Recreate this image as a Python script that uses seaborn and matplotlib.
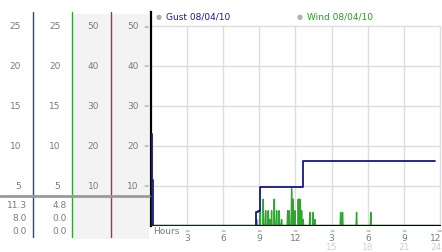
import matplotlib
matplotlib.use("Agg")
import matplotlib.pyplot as plt
import seaborn as sns
import pandas as pd
from matplotlib.patches import Rectangle

# ---------------- data ----------------
gust_hours = [0.0, 0.0, 0.12, 0.2, 8.72, 8.92, 9.05, 12.6, 23.6]
gust_speeds = [0.0, 23.0, 11.3, 0.0, 3.4, 3.6, 9.6, 16.1, 16.1]

wind_spike_hours = [8.79, 9.06, 9.34, 9.54, 9.75, 9.89, 10.03, 10.25, 10.45, 10.66,
                    10.86, 11.36, 11.49, 11.69, 11.82, 11.96, 12.24, 12.38, 12.52,
                    12.65, 13.2, 13.48, 13.62, 15.75, 15.91, 17.07, 18.25]
wind_spike_speeds = [1.5, 3.7, 6.6, 3.7, 3.7, 1.5, 3.7, 6.6, 3.7, 3.7,
                     1.5, 3.7, 3.7, 9.2, 6.6, 3.7, 6.6, 6.6, 3.7,
                     1.5, 3.3, 3.3, 1.5, 3.3, 3.3, 3.3, 3.3]

hour_ticks = [3, 6, 9, 12, 15, 18, 21, 24]
hour_labels = ["3", "6", "9", "12", "3", "6", "9", "12"]
hour_labels2 = ["", "", "", "", "15", "18", "21", "24"]

grid_levels = [10, 20, 30, 40, 50]
col1_labels = ["5", "10", "15", "20", "25"]
col2_labels = ["5", "10", "15", "20", "25"]
col3_labels = ["10", "20", "30", "40", "50"]
col4_labels = ["10", "20", "30", "40", "50"]
col1_summary = ["11.3", "8.0", "0.0"]
col2_summary = ["4.8", "0.0", "0.0"]

legend_names = ["Gust 08/04/10", "Wind 08/04/10"]

# ---------------- build tables ----------------
gust_df = pd.DataFrame({"hour": gust_hours, "speed": gust_speeds})
wh, ws = [0.0], [0.0]
for h, v in zip(wind_spike_hours, wind_spike_speeds):
    wh += [h - 0.04, h, h + 0.04]
    ws += [0.0, v, 0.0]
wh.append(24.0)
ws.append(0.0)
wind_df = pd.DataFrame({"hour": wh, "speed": ws})

# ---------------- figure ----------------
sns.set_style("white")
plt.rcParams["font.family"] = ["DejaVu Sans"]
W, H = 442, 253
fig = plt.figure(figsize=(W / 100, H / 100), dpi=100)

ax_left_px, ax_right_px = 150.5, 442
ax_top_px, ax_bot_px = 13, 226.5
ymax = 53.5
ax = fig.add_axes([ax_left_px / W, (H - ax_bot_px) / H,
                   (ax_right_px - ax_left_px) / W, (ax_bot_px - ax_top_px) / H])
xmax = 24 * (ax_right_px - ax_left_px) / (440.2 - ax_left_px)
ax.set_xlim(0, xmax)
ax.set_ylim(0, ymax)
scale = (ax_bot_px - ax_top_px) / ymax  # px per unit

GRID = "#dddddd"
for g in grid_levels:
    ax.plot([0, 24], [g, g], color=GRID, lw=1, zorder=1)
for t in hour_ticks:
    ax.plot([t, t], [0, 50], color=GRID, lw=1, zorder=1)

sns.lineplot(data=wind_df, x="hour", y="speed", ax=ax, color="#2fa52f", lw=1.0,
             estimator=None, sort=False, zorder=2)
ax.axhline(0, xmin=0, xmax=24 / xmax, color="black", lw=1.6, zorder=3)
sns.lineplot(data=gust_df, x="hour", y="speed", ax=ax, color="#16168a", lw=1.3,
             estimator=None, sort=False, drawstyle="steps-post", zorder=4)

for s in ["top", "right", "bottom"]:
    ax.spines[s].set_visible(False)
ax.spines["left"].set_color("black")
ax.spines["left"].set_linewidth(1.6)
ax.set_xticks([])
ax.set_yticks([])
ax.set_xlabel("")
ax.set_ylabel("")
ax.patch.set_alpha(0)

FS = 6.5
TXT = "#7a7a7a"
xt = ax.get_xaxis_transform()
def yfrac(px):
    return (ax_bot_px - px) / (ax_bot_px - ax_top_px)
last = hour_ticks[-1]
for t, l1, l2 in zip(hour_ticks, hour_labels, hour_labels2):
    ha = "right" if t == last else "center"
    tx = t + 0.12 if t == last else t
    ax.text(tx - (0.2 if t == last else 0), yfrac(231), "≈", transform=xt,
            ha="center", va="center", fontsize=4.5, color="#999999", clip_on=False)
    ax.text(tx, yfrac(238.5), l1, transform=xt, ha=ha, va="center",
            fontsize=FS, color=TXT, clip_on=False)
    if l2:
        ax.text(tx, yfrac(247.5), l2, transform=xt, ha=ha, va="center",
                fontsize=FS, color="#d0d0d0", clip_on=False)
ax.text(0.25, yfrac(232), "Hours", transform=xt, ha="left", va="center",
        fontsize=FS, color=TXT, clip_on=False)

# legend
lx = [(159, 166, "#1a1a9a"), (300, 307, "#2a9a2a")]
for (cx, tx, col), name in zip(lx, legend_names):
    fig.text(cx / W, 1 - 17.5 / H, "●", color="#b0b0b0", fontsize=5,
             ha="center", va="center")
    fig.text(tx / W, 1 - 17.5 / H, name, color=col, fontsize=FS,
             ha="left", va="center")

# ---------------- left panel ----------------
lax = fig.add_axes([0, 0, ax_left_px / W, 1])
lax.set_xlim(0, ax_left_px)
lax.set_ylim(-(H - ax_bot_px) / scale, ax_bot_px / scale)
lax.axis("off")
def py(px):
    return (ax_bot_px - px) / scale

for x0, x1 in [(73, 110.5), (111.5, 148.5)]:
    lax.add_patch(Rectangle((x0, py(240)), x1 - x0, py(15) - py(240),
                            color="#f3f3f3", lw=0, zorder=0))
for x, col in [(33.3, "#2343a3"), (72.3, "#3aa03a"), (111, "#b03232")]:
    lax.plot([x, x], [py(12.5), py(237.5)], color=col, lw=1, zorder=2)
lax.plot([0, 148.5], [py(197), py(197)], color="#9a9a9a", lw=2, zorder=3)

for labels, xr in [(col1_labels, 21), (col2_labels, 60.5),
                   (col3_labels, 99), (col4_labels, 138.5)]:
    for g, lab in zip(grid_levels, labels):
        lax.text(xr, g, lab, ha="right", va="center", fontsize=FS, color=TXT)
for g in grid_levels:
    lax.text(145.5, g, "≈", ha="center", va="center", fontsize=4.5, color="#999999")

for vals, xr in [(col1_summary, 27), (col2_summary, 67)]:
    for ypx, v in zip([205, 218.5, 231.5], vals):
        lax.text(xr, py(ypx), v, ha="right", va="center", fontsize=FS, color=TXT)

fig.savefig("out.png", dpi=100)
